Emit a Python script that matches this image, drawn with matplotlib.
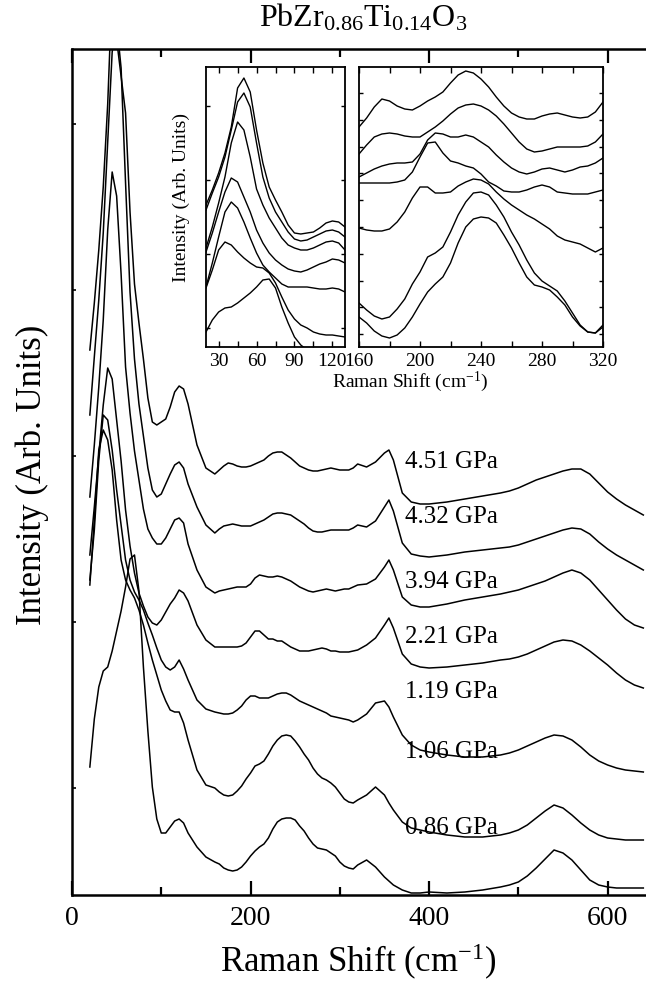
import matplotlib
matplotlib.use("Agg")
import matplotlib.pyplot as plt

plt.rcParams['font.family'] = ['Liberation Serif', 'DejaVu Serif']
plt.rcParams['mathtext.fontset'] = 'custom'
plt.rcParams['mathtext.rm'] = 'Liberation Serif'
plt.rcParams['mathtext.it'] = 'Liberation Serif:italic'
plt.rcParams['mathtext.bf'] = 'Liberation Serif:bold'

# ---------------- data ----------------
pressures = ["4.51 GPa", "4.32 GPa", "3.94 GPa", "2.21 GPa", "1.19 GPa", "1.06 GPa", "0.86 GPa"]

main_shift = [20, 25, 30, 35, 40, 45, 50, 55, 60, 65, 70, 75, 80, 85, 90, 95, 100, 105, 110, 115, 120, 125, 130,
              140, 150,
              160, 165, 170, 175, 180, 185, 190, 195, 200, 205, 210, 215, 220, 225, 230, 235, 240,
              245, 250, 255, 260, 265, 270, 275, 280, 285, 290, 295, 300, 305, 310, 315, 320,
              330, 340, 350, 355, 360, 370, 380, 390, 400, 420, 440, 460, 480, 490, 500, 510, 520,
              530, 540, 550, 560, 570, 580, 590, 600, 610, 620, 630, 640]

main_451 = [545, 592, 645, 708, 791, 908, 938, 896, 782, 683, 611, 572, 536, 497, 473, 470, 473, 476, 488, 503, 509, 506, 491,
            450, 427,
            421, 425, 429, 432, 431, 429, 428, 428, 429, 431, 433, 435, 439, 442, 443, 443, 440,
            437, 433, 429, 427, 425, 424, 424, 425, 426, 427, 426, 425, 425, 425, 427, 431,
            428, 433, 442, 445, 435, 402, 393, 391, 391, 393, 396, 399, 402, 404, 407, 411, 415,
            418, 421, 424, 426, 426, 421, 412, 403, 396, 390, 385, 380]
main_432 = [480, 538, 595, 662, 753, 843, 872, 827, 712, 603, 536, 491, 459, 427, 405, 398, 401, 411, 421, 430, 433, 427, 411,
            388, 370,
            362, 366, 369, 370, 371, 370, 369, 369, 369, 371, 373, 375, 378, 381, 382, 382, 381,
            380, 377, 374, 371, 367, 364, 363, 363, 364, 365, 365, 365, 365, 365, 367, 370,
            368, 374, 388, 395, 384, 352, 341, 339, 338, 340, 343, 345, 347, 348, 350, 353, 356,
            359, 362, 365, 367, 366, 361, 353, 346, 340, 335, 330, 325]
main_394 = [398, 450, 508, 575, 665, 723, 699, 621, 528, 482, 444, 415, 386, 366, 357, 351, 351, 357, 366, 375, 377, 372, 351,
            325, 308,
            302, 304, 305, 306, 307, 308, 308, 308, 311, 317, 320, 319, 318, 318, 319, 318, 316,
            314, 311, 308, 306, 304, 303, 304, 305, 306, 305, 304, 305, 306, 306, 308, 310,
            311, 316, 328, 335, 325, 298, 290, 288, 288, 291, 295, 298, 301, 303, 305, 308, 311,
            314, 318, 322, 325, 322, 315, 305, 295, 285, 276, 270, 267]
main_221 = [340, 388, 440, 490, 527, 516, 475, 434, 385, 349, 322, 302, 289, 278, 272, 270, 275, 283, 291, 297, 305, 302, 294,
            270, 255,
            248, 248, 248, 248, 248, 248, 249, 252, 258, 264, 264, 260, 256, 256, 254, 254, 251,
            248, 246, 244, 244, 244, 245, 246, 247, 246, 244, 244, 243, 243, 243, 244, 245,
            250, 257, 270, 277, 267, 241, 231, 228, 227, 228, 230, 232, 235, 236, 238, 241, 245,
            249, 253, 255, 254, 250, 244, 237, 230, 222, 215, 210, 207]
main_119 = [315, 365, 435, 480, 475, 445, 405, 370, 335, 315, 303, 295, 285, 272, 260, 247, 235, 228, 225, 228, 235, 226, 215,
            195, 186,
            183, 182, 181, 181, 182, 185, 189, 195, 199, 199, 197, 197, 197, 199, 201, 202, 202,
            200, 197, 194, 192, 190, 188, 186, 184, 182, 179, 178, 177, 176, 175, 173, 175,
            181, 192, 194, 188, 178, 160, 150, 145, 143, 140, 138, 138, 140, 142, 145, 149, 153,
            157, 160, 159, 155, 148, 140, 134, 130, 127, 125, 124, 123]
main_106 = [310, 375, 445, 465, 455, 425, 375, 335, 315, 305, 297, 285, 270, 252, 235, 220, 205, 194, 185, 183, 183, 172, 155,
            125, 110,
            107, 103, 100, 99, 100, 104, 109, 116, 122, 129, 131, 134, 141, 149, 155, 159, 160,
            159, 154, 148, 141, 135, 127, 121, 117, 115, 112, 108, 102, 96, 93, 92, 95,
            100, 108, 100, 92, 85, 73, 67, 65, 63, 60, 58, 58, 60, 62, 65, 70, 77,
            84, 90, 87, 80, 72, 65, 60, 57, 56, 55, 55, 55]
main_086 = [128, 176, 208, 224, 228, 244, 264, 284, 308, 336, 340, 304, 228, 164, 108, 76, 62, 62, 68, 74, 76, 72, 62,
            48, 38,
            33, 31, 27, 25, 24, 25, 28, 33, 39, 44, 48, 51, 57, 66, 73, 76, 77,
            77, 75, 69, 64, 57, 51, 47, 46, 45, 42, 39, 33, 29, 27, 26, 30,
            35, 28, 18, 14, 10, 5, 2, 2, 3, 2, 3, 5, 8, 10, 13, 19, 27,
            36, 45, 42, 35, 25, 15, 10, 8, 7, 7, 7, 7]

# left inset (low-frequency region)
low_shift = [20, 25, 30, 35, 40, 45, 50, 55, 60, 65, 70, 75, 80, 85, 90, 95, 100, 105, 110, 115, 120, 125, 130]
low_451 = [142, 157, 174, 194, 220, 259, 269, 255, 217, 184, 160, 147, 135, 122, 114, 113, 114, 115, 119, 124, 126, 125, 120]
low_432 = [137, 154, 170, 190, 217, 245, 254, 240, 204, 170, 149, 135, 125, 115, 108, 106, 107, 110, 113, 116, 117, 115, 110]
low_394 = [99, 120, 144, 170, 204, 225, 217, 190, 158, 142, 129, 119, 109, 102, 99, 97, 97, 99, 102, 105, 106, 104, 97]
low_221 = [95, 114, 135, 155, 169, 165, 150, 135, 117, 104, 94, 87, 82, 78, 76, 75, 77, 80, 83, 85, 88, 87, 84]
low_119 = [60, 84, 110, 135, 145, 139, 125, 109, 94, 82, 75, 69, 63, 60, 60, 60, 60, 59, 58, 58, 59, 58, 55]
low_106 = [59, 77, 97, 105, 102, 95, 89, 84, 80, 79, 74, 64, 50, 37, 28, 22, 19, 15, 13, 12, 12, 11, 10]
low_086_shift = [20, 25, 30, 35, 40, 45, 50, 55, 60, 65, 70, 75, 80, 85, 90, 95, 100]
low_086 = [15, 27, 35, 39, 40, 44, 49, 54, 60, 67, 68, 59, 40, 24, 10, 2, -3]

# right inset (mid-frequency region)
mid_shift = [160, 165, 170, 175, 180, 185, 190, 195, 200, 205, 210, 215, 220, 225, 230, 235, 240,
             245, 250, 255, 260, 265, 270, 275, 280, 285, 290, 295, 300, 305, 310, 315, 320]
mid_451 = [220, 229, 240, 248, 246, 241, 238, 237, 241, 246, 250, 255, 264, 272, 276, 274, 268,
           260, 250, 241, 234, 230, 228, 228, 231, 233, 234, 232, 230, 229, 230, 235, 245]
mid_432 = [193, 202, 210, 213, 214, 213, 211, 210, 210, 215, 220, 226, 233, 239, 242, 243, 241,
           237, 231, 223, 214, 205, 198, 195, 196, 198, 200, 200, 200, 200, 201, 205, 213]
mid_394 = [170, 174, 178, 181, 183, 184, 184, 185, 193, 207, 214, 213, 210, 210, 212, 210, 205,
           200, 192, 185, 179, 175, 173, 175, 178, 179, 177, 175, 177, 180, 181, 184, 189]
mid_221 = [164, 164, 164, 164, 164, 165, 167, 175, 190, 204, 205, 194, 186, 184, 181, 179, 173,
           165, 161, 156, 155, 155, 157, 160, 162, 160, 155, 154, 153, 153, 153, 155, 157]
mid_119 = [119, 117, 116, 116, 118, 125, 135, 149, 160, 160, 154, 154, 155, 161, 165, 168, 167,
           163, 155, 148, 142, 137, 132, 128, 123, 118, 111, 107, 105, 103, 99, 95, 99]
mid_106 = [44, 37, 31, 28, 30, 38, 48, 63, 75, 90, 94, 100, 115, 132, 145, 154, 155,
           152, 142, 130, 115, 102, 87, 74, 66, 61, 56, 46, 34, 22, 15, 14, 20]
mid_086 = [30, 24, 16, 11, 9, 12, 19, 30, 43, 55, 63, 70, 84, 104, 120, 128, 130,
           129, 124, 112, 99, 84, 70, 62, 60, 57, 50, 42, 30, 21, 15, 14, 22]

# ---------------- figure ----------------
W, H = 646, 990
fig = plt.figure(figsize=(W / 100, H / 100), dpi=100)

def fx(px):
    return px / W

def fy(py):
    return 1 - py / H

ax = fig.add_axes([fx(72), fy(895), fx(646) - fx(72), fy(49) - fy(895)])
main_series = [main_451, main_432, main_394, main_221, main_119, main_106, main_086]
for s in main_series:
    ax.plot(main_shift, s, color='black', lw=1.1, solid_joinstyle='round')
ax.set_xlim(0, 643)
ax.set_ylim(0, 846)
ax.set_xticks([0, 200, 400, 600])
ax.set_xticks([100, 300, 500], minor=True)
ax.set_yticks([107, 273, 439, 605, 771])
ax.set_yticklabels([])
ax.tick_params(axis='x', which='major', direction='in', top=True, length=10, width=1.6, labelsize=20, pad=8)
ax.tick_params(axis='x', which='minor', direction='in', top=True, length=6, width=1.6)
ax.tick_params(axis='y', which='major', direction='in', length=3, width=1.2, right=False)
ax.spines['right'].set_visible(False)
for sp in ['left', 'bottom', 'top']:
    ax.spines[sp].set_linewidth(1.8)

label_y = [433, 378, 313, 258, 203, 143, 67]
for lab, yy in zip(pressures, label_y):
    ax.text(373, yy, lab, fontsize=18, ha='left', va='center')

fig.text(fx(358), fy(962), r"Raman Shift (cm$^{\mathregular{-1}}$)", fontsize=25, ha='center', va='center')
fig.text(fx(32), fy(475), "Intensity (Arb. Units)", fontsize=25, ha='center', va='center', rotation=90)
fig.text(fx(363), fy(18), r"PbZr$_{\mathregular{0.86}}$Ti$_{\mathregular{0.14}}$O$_{\mathregular{3}}$",
         fontsize=23, ha='center', va='center')

# left inset
ax1 = fig.add_axes([fx(206), fy(347), fx(345) - fx(206), fy(67) - fy(347)])
for s in [low_451, low_432, low_394, low_221, low_119, low_106]:
    ax1.plot(low_shift, s, color='black', lw=1.0, solid_joinstyle='round')
ax1.plot(low_086_shift, low_086, color='black', lw=1.0, solid_joinstyle='round')
ax1.set_xlim(20, 130)
ax1.set_ylim(0, 280)
ax1.set_xticks([30, 60, 90, 120])
ax1.set_xticks([45, 75, 105], minor=True)
ax1.set_yticks([19, 93, 167, 241])
ax1.set_yticklabels([])
ax1.tick_params(axis='x', which='both', direction='in', top=True, length=4, width=1.0, labelsize=14, pad=4)
ax1.tick_params(axis='y', direction='in', right=True, length=3, width=1.0)
for sp in ax1.spines.values():
    sp.set_linewidth(1.3)

# right inset
ax2 = fig.add_axes([fx(359), fy(347), fx(603) - fx(359), fy(67) - fy(347)])
for s in [mid_451, mid_432, mid_394, mid_221, mid_119, mid_106, mid_086]:
    ax2.plot(mid_shift, s, color='black', lw=1.0, solid_joinstyle='round')
ax2.set_xlim(160, 320)
ax2.set_ylim(0, 280)
ax2.set_xticks([160, 200, 240, 280, 320])
ax2.set_xticks([180, 220, 260, 300], minor=True)
ax2.set_yticks([13, 40, 66, 93, 120, 147, 174, 200, 227, 254])
ax2.set_yticklabels([])
ax2.tick_params(axis='x', which='both', direction='in', top=True, length=4, width=1.0, labelsize=14, pad=4)
ax2.tick_params(axis='y', direction='in', right=True, length=3, width=1.0)
for sp in ax2.spines.values():
    sp.set_linewidth(1.3)

fig.text(fx(410), fy(382), r"Raman Shift (cm$^{\mathregular{-1}}$)", fontsize=14, ha='center', va='center')
fig.text(fx(181), fy(197), "Intensity (Arb. Units)", fontsize=14, ha='center', va='center', rotation=90)

fig.savefig("out.png", dpi=100)
